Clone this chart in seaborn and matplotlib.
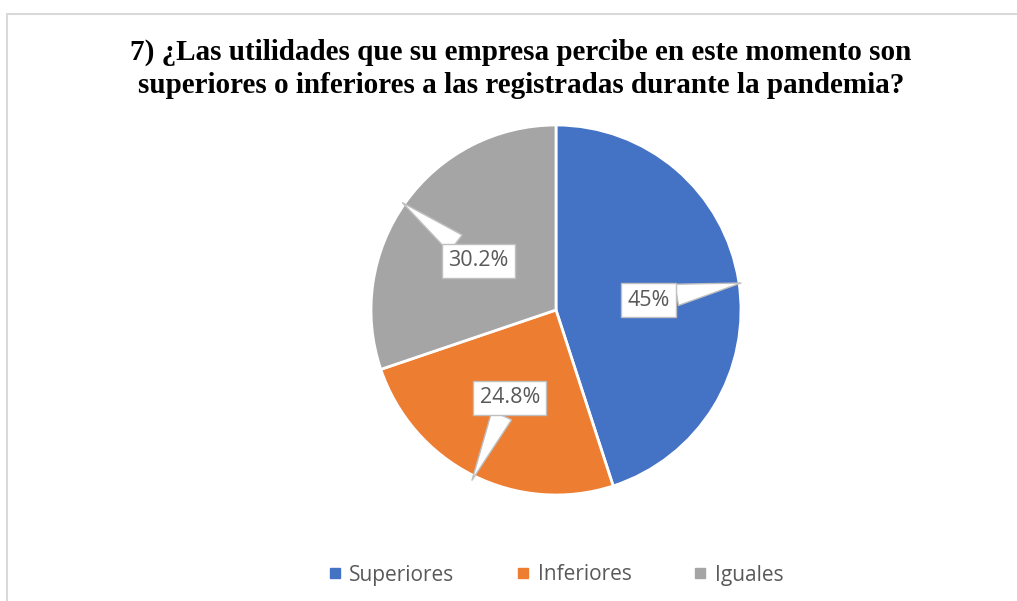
import matplotlib
matplotlib.use("Agg")
import matplotlib.pyplot as plt
import matplotlib.patches as mpatches
from matplotlib.lines import Line2D
import seaborn as sns

# datos del gráfico
categorias = ["Superiores", "Inferiores", "Iguales"]
porcentajes = [45.0, 24.8, 30.2]
etiquetas = ["45%", "24.8%", "30.2%"]
colores = ["#4472C4", "#ED7D31", "#A5A5A5"]

titulo = ("7) ¿Las utilidades que su empresa percibe en este momento son\n"
          "superiores o inferiores a las registradas durante la pandemia?")

sns.set_theme(style="white")
plt.rcParams['font.family'] = ['Open Sans', 'DejaVu Sans']

W, H = 1017, 601
fig = plt.figure(figsize=(W / 100, H / 100), dpi=100)

# borde del área del gráfico
fig.patches.append(mpatches.Rectangle((7 / W, -0.1), 1.2, (H - 14) / H + 0.1,
                                      fill=False, edgecolor='#d9d9d9', lw=1.5,
                                      transform=fig.transFigure))

cx, cy, r = 556, 310, 185
ax = fig.add_axes([(cx - r) / W, (H - cy - r) / H, 2 * r / W, 2 * r / H])
wedges, _ = ax.pie(porcentajes, colors=colores, startangle=90, counterclock=False,
                   radius=1, wedgeprops=dict(edgecolor='white', linewidth=2))
ax.set_xlim(-1.0, 1.0)
ax.set_ylim(-1.0, 1.0)
ax.set_aspect('equal')
ax.axis('off')

# etiquetas tipo globo
pos_texto = [(0.50, 0.054), (-0.25, -0.475), (-0.42, 0.265)]
pos_punta = [(1.0, 0.146), (-0.454, -0.92), (-0.83, 0.58)]
for et, xt, xp in zip(etiquetas, pos_texto, pos_punta):
    ax.annotate(et, xy=xp, xytext=xt, ha='center', va='center',
                fontsize=15.5, color='#595959',
                bbox=dict(boxstyle='square,pad=0.3', fc='white', ec='#bfbfbf', lw=1),
                arrowprops=dict(arrowstyle='wedge,tail_width=1.0,shrink_factor=0.5',
                                fc='white', ec='#bfbfbf', lw=1,
                                shrinkA=0, shrinkB=0))

fig.text(521 / W, 1 - 69 / H, titulo, ha='center', va='center',
         fontsize=21, fontweight='bold', family='Liberation Serif',
         linespacing=1.3, color='black')

handles = [Line2D([], [], marker='s', linestyle='', markersize=7, color=c)
           for c in colores]
fig.legend(handles, categorias, loc='center', bbox_to_anchor=(556 / W, 1 - 575 / H),
           ncol=3, frameon=False, fontsize=15, handlelength=0.6, handletextpad=0.4,
           columnspacing=3.0, labelcolor='#595959')

fig.savefig("out.png", dpi=100, facecolor='white')
